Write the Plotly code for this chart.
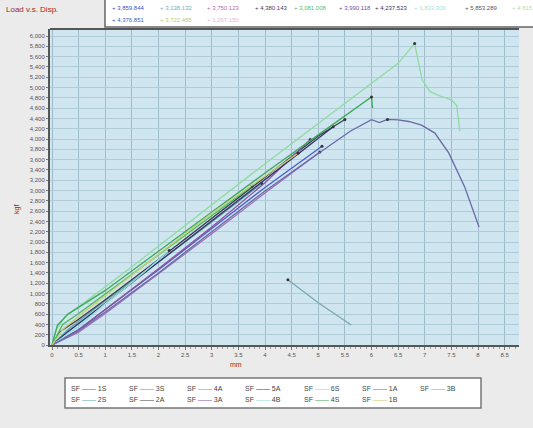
import plotly.graph_objects as go

# ---------------- data ----------------
series_names = ["SF — 1S", "SF — 2S", "SF — 3S", "SF — 2A", "SF — 4A", "SF — 3A", "SF — 5A",
                "SF — 4B", "SF — 6S", "SF — 4S", "SF — 1A", "SF — 1B", "SF — 3B"]
peak_labels = ["3,859.844", "3,138.132", "3,750.123", "4,380.143", "3,081.008", "3,990.118",
               "4,237.523", "1,833.300", "5,853.289", "4,815.206", "4,376.851", "3,722.455", "1,267.150"]
line_colors = ["#4a5ccc", "#5fa8a8", "#a070b8", "#3c3c48", "#48b860", "#9050a0", "#34346e",
               "#8ee0dc", "#8edc9c", "#3caa5c", "#6a6aa6", "#c4d070", "#7aa8b0"]
label_colors = ["#3a50c8", "#7aaeb0", "#b070b0", "#444455", "#58c068", "#7050a0", "#333366",
                "#a0e4e0", "#555566", "#b8dcb8", "#4060c0", "#c0c870", "#e4b8c8"]

x_F = [0, 0.5, 1.0, 2.0, 3.0, 4.0, 5.07]
y_F = [0, 300, 690, 1460, 2260, 3060, 3860]
x_I = [0, 0.3, 1.0, 2.0, 3.0, 3.94]
y_I = [0, 300, 860, 1610, 2390, 3138]
x_G = [0, 0.5, 1.0, 2.0, 3.0, 4.0, 5.03]
y_G = [0, 250, 610, 1380, 2160, 2950, 3750]
x_D = [0, 0.15, 0.5, 1.0, 2.0, 3.0, 4.0, 5.0, 5.5]
y_D = [0, 260, 500, 880, 1660, 2460, 3270, 4060, 4380]
x_J = [0, 0.2, 0.5, 1.0, 2.0, 3.0, 3.75]
y_J = [0, 400, 610, 990, 1760, 2520, 3081]
x_K = [0, 0.5, 1.0, 2.0, 3.0, 4.0, 4.85]
y_K = [0, 290, 690, 1480, 2290, 3150, 3990]
x_E = [0, 0.3, 1.0, 2.0, 3.0, 4.0, 5.28]
y_E = [0, 260, 810, 1610, 2400, 3210, 4237]
x_L = [0, 0.5, 1.0, 1.6, 2.2]
y_L = [0, 360, 800, 1300, 1833]
x_A = [0, 0.08, 0.25, 0.6, 1.5, 3.0, 4.0, 5.0, 6.0, 6.5, 6.81, 6.88, 6.95, 7.1, 7.3, 7.5, 7.6, 7.66]
y_A = [0, 300, 560, 820, 1520, 2720, 3520, 4300, 5080, 5470, 5853, 5500, 5150, 4920, 4830, 4760, 4650, 4150]
x_C = [0, 0.1, 0.3, 1.0, 2.0, 3.0, 4.0, 5.0, 6.0, 6.02]
y_C = [0, 380, 600, 1060, 1820, 2580, 3340, 4080, 4815, 4600]
x_B = [0, 0.5, 1.0, 2.0, 3.0, 4.0, 5.0, 5.6, 6.0, 6.15, 6.3, 6.5, 6.7, 6.94, 7.19, 7.45, 7.75, 8.02]
y_B = [0, 280, 640, 1400, 2200, 2990, 3720, 4150, 4377, 4320, 4380, 4370, 4340, 4270, 4115, 3730, 3070, 2290]
x_H = [0, 0.2, 0.5, 1.0, 2.0, 3.0, 4.62]
y_H = [0, 300, 560, 960, 1760, 2560, 3722]
x_M = [4.43, 5.0, 5.62]
y_M = [1267, 820, 390]

series_x = [x_F, x_I, x_G, x_D, x_J, x_K, x_E, x_L, x_A, x_C, x_B, x_H, x_M]
series_y = [y_F, y_I, y_G, y_D, y_J, y_K, y_E, y_L, y_A, y_C, y_B, y_H, y_M]

x_tick_vals = [0, 0.5, 1, 1.5, 2, 2.5, 3, 3.5, 4, 4.5, 5, 5.5, 6, 6.5, 7, 7.5, 8, 8.5]
x_tick_text = ["0", "0.5", "1", "1.5", "2", "2.5", "3", "3.5", "4", "4.5", "5", "5.5", "6", "6.5",
               "7", "7.5", "8", "8.5"]
y_tick_vals = list(range(0, 6001, 200))
y_tick_text = [f"{v:,}" for v in y_tick_vals]

# ---------------- figure ----------------
W, H = 533, 428
L, R, T, B = 50, 14, 29, 83
PW, PH = W - L - R, H - T - B


def px(x):
    return (x - L) / PW


def py(y):
    return (H - B - y) / PH


fig = go.Figure()
for i in range(len(series_x)):
    fig.add_trace(go.Scatter(x=series_x[i], y=series_y[i], mode="lines",
                             line=dict(color=line_colors[i], width=1.3),
                             name=series_names[i], showlegend=False, hoverinfo="skip"))
    k = series_y[i].index(max(series_y[i]))
    fig.add_trace(go.Scatter(x=[series_x[i][k]], y=[series_y[i][k]], mode="markers",
                             marker=dict(color="#333333", size=3, symbol="circle"),
                             showlegend=False, hoverinfo="skip"))

shapes = []
annotations = []

# top frame line of the plot
shapes.append(dict(type="line", xref="paper", yref="paper", x0=0, x1=1, y0=1, y1=1,
                   line=dict(color="#555555", width=2)))

# top value legend box
shapes.append(dict(type="rect", xref="paper", yref="paper", x0=px(105), x1=px(545),
                   y0=py(27), y1=py(-2), fillcolor="white", line=dict(color="#666666", width=1.5),
                   layer="above"))
top_pos_x = [110, 158, 205, 253, 292, 337, 373, 412, 463, 510, 110, 158, 205]
top_pos_y = [8, 8, 8, 8, 8, 8, 8, 8, 8, 8, 20, 20, 20]
for i in range(len(peak_labels)):
    annotations.append(dict(xref="paper", yref="paper", x=px(top_pos_x[i]), y=py(top_pos_y[i]),
                            xanchor="left", yanchor="middle", showarrow=False,
                            text=f"+ {peak_labels[i]}",
                            font=dict(size=6, color=label_colors[i], family="Liberation Sans")))

# bottom name legend box (column-major order)
shapes.append(dict(type="rect", xref="paper", yref="paper", x0=px(65), x1=px(481),
                   y0=py(408), y1=py(378), fillcolor="white", line=dict(color="#777777", width=1.5)))
bot_cols = [69, 127, 185, 243, 302, 360, 418]
for i in range(len(series_names)):
    c, r = divmod(i, 2)
    nm = series_names[i].split(" — ")
    annotations.append(dict(xref="paper", yref="paper", x=px(bot_cols[c]), y=py(388 + 11 * r),
                            xanchor="left", yanchor="middle", showarrow=False,
                            text=f"{nm[0]} <span style='color:{line_colors[i]}'>——</span> {nm[1]}",
                            font=dict(size=7, color="#444444", family="Liberation Sans")))

# title and axis titles
annotations.append(dict(xref="paper", yref="paper", x=px(4), y=py(10), xanchor="left",
                        yanchor="middle", showarrow=False, text="Load v.s. Disp.",
                        font=dict(size=8, color="#a02828", family="Liberation Sans")))
annotations.append(dict(xref="paper", yref="paper", x=px(17), y=py(210), xanchor="center",
                        yanchor="middle", showarrow=False, text="kgf", textangle=-90,
                        font=dict(size=7, color="#a02828", family="Liberation Sans")))
annotations.append(dict(xref="paper", yref="paper", x=px(236), y=py(365), xanchor="center",
                        yanchor="middle", showarrow=False, text="mm",
                        font=dict(size=7, color="#a02828", family="Liberation Sans")))

fig.update_layout(
    width=W, height=H,
    margin=dict(l=L, r=R, t=T, b=B),
    paper_bgcolor="#ebebeb",
    plot_bgcolor="#cfe5ef",
    shapes=shapes,
    annotations=annotations,
    font=dict(family="Liberation Sans", size=6, color="#555555"),
)
fig.update_xaxes(range=[-0.038, 8.77], tickvals=x_tick_vals, ticktext=x_tick_text,
                 showgrid=True, gridcolor="#9fbccb", gridwidth=1,
                 showline=True, linecolor="#555555", linewidth=2,
                 ticks="outside", ticklen=3, tickcolor="#777777",
                 minor=dict(dtick=0.1, ticks="outside", ticklen=2, tickcolor="#999999", showgrid=False),
                 tickfont=dict(size=6, color="#555555"), zeroline=False)
fig.update_yaxes(range=[0, 6136], tickvals=y_tick_vals, ticktext=y_tick_text,
                 showgrid=True, gridcolor="#b0ccd8", gridwidth=1,
                 showline=True, linecolor="#555555", linewidth=2,
                 ticks="outside", ticklen=2, tickcolor="#777777",
                 tickfont=dict(size=6, color="#555555"), zeroline=False)

fig.write_html("out.html")
